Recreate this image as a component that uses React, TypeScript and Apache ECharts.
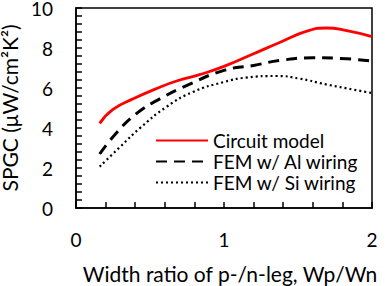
import React, { useEffect, useRef } from "react";
import * as echarts from "echarts";

const circuitX = [0.16, 0.25, 0.39, 0.57, 0.68, 0.84, 1.0, 1.2, 1.38, 1.56, 1.69, 1.83, 2.0];
const circuitY = [4.23, 4.93, 5.47, 6.05, 6.35, 6.68, 7.08, 7.71, 8.29, 8.84, 9.0, 8.87, 8.57];
const alX = [0.16, 0.27, 0.41, 0.57, 0.75, 1.0, 1.2, 1.38, 1.6, 1.83, 2.0];
const alY = [2.7, 3.73, 4.73, 5.47, 6.13, 6.88, 7.13, 7.38, 7.51, 7.46, 7.34];
const siX = [0.16, 0.3, 0.43, 0.61, 0.79, 1.0, 1.15, 1.36, 1.51, 1.69, 2.0];
const siY = [2.07, 3.07, 3.98, 5.05, 5.8, 6.3, 6.52, 6.6, 6.47, 6.18, 5.75];
const seriesNames = ["Circuit model", "FEM w/ Al wiring", "FEM w/ Si wiring"];
const xTicks = { min: 0, max: 2, interval: 1 };
const yTicks = { min: 0, max: 10, interval: 2 };

const zip = (xs: number[], ys: number[]) => xs.map((x, i) => [x, ys[i]]);
const FONT = "Lato";

export default function App() {
  const ref = useRef<HTMLDivElement>(null);
  useEffect(() => {
    if (!ref.current) return;
    const chart = echarts.init(ref.current, undefined, { renderer: "svg" });
    chart.setOption({
      animation: false,
      textStyle: { fontFamily: FONT },
      grid: {
        left: 76,
        top: 8,
        right: 13,
        bottom: 78,
        outerBoundsMode: "none",
        containLabel: false,
        show: true,
        borderColor: "#000",
        borderWidth: 1.5,
      },
      legend: {
        orient: "vertical",
        left: 150,
        top: 126,
        itemWidth: 52,
        itemHeight: 14,
        itemGap: 2,
        itemStyle: { opacity: 0 },
        textStyle: { fontSize: 19, color: "#000", fontFamily: FONT },
        data: seriesNames,
      },
      xAxis: {
        type: "value",
        min: xTicks.min,
        max: xTicks.max,
        interval: xTicks.interval,
        axisLine: { show: true, lineStyle: { color: "#000", width: 1.5 } },
        axisTick: { show: true, inside: true, length: 6, lineStyle: { color: "#000", width: 1.5 } },
        minorTick: { show: true, splitNumber: 5, length: 6, lineStyle: { color: "#000", width: 1.5 } },
        splitLine: { show: false },
        axisLabel: { fontSize: 19, color: "#000", margin: 22, fontFamily: FONT },
        name: "Width ratio of p-/n-leg, Wp/Wn",
        nameLocation: "middle",
        nameGap: 55,
        nameTextStyle: { fontSize: 21, color: "#000", fontFamily: FONT, padding: [0, 0, 0, 12] },
      },
      yAxis: {
        type: "value",
        min: yTicks.min,
        max: yTicks.max,
        interval: yTicks.interval,
        axisLine: { show: true, lineStyle: { color: "#000", width: 1.5 } },
        axisTick: { show: true, inside: true, length: 6, lineStyle: { color: "#000", width: 1.5 } },
        minorTick: { show: true, splitNumber: 5, length: 6, lineStyle: { color: "#000", width: 1.5 } },
        splitLine: { show: false },
        axisLabel: { fontSize: 19, lineHeight: 16, color: "#000", margin: 23, fontFamily: FONT },
        name: "SPGC (μW/cm²K²)",
        nameLocation: "middle",
        nameGap: 49,
        nameTextStyle: { fontSize: 21, color: "#000", fontFamily: FONT },
      },
      series: [
        {
          name: seriesNames[0],
          type: "line",
          smooth: true,
          symbol: "none",
          data: zip(circuitX, circuitY),
          lineStyle: { color: "#ff0000", width: 2.8, type: "solid" },
          itemStyle: { color: "#ff0000" },
        },
        {
          name: seriesNames[1],
          type: "line",
          smooth: true,
          symbol: "none",
          data: zip(alX, alY),
          lineStyle: { color: "#000", width: 3, type: [11, 7] },
          itemStyle: { color: "#000" },
        },
        {
          name: seriesNames[2],
          type: "line",
          smooth: true,
          symbol: "none",
          data: zip(siX, siY),
          lineStyle: { color: "#000", width: 2.2, type: [2, 3] },
          itemStyle: { color: "#000" },
        },
      ],
    });
    return () => chart.dispose();
  }, []);
  return (
    <div
      ref={ref}
      style={{ position: "absolute", left: 0, top: 0, width: 385, height: 286, background: "#fff" }}
    />
  );
}
